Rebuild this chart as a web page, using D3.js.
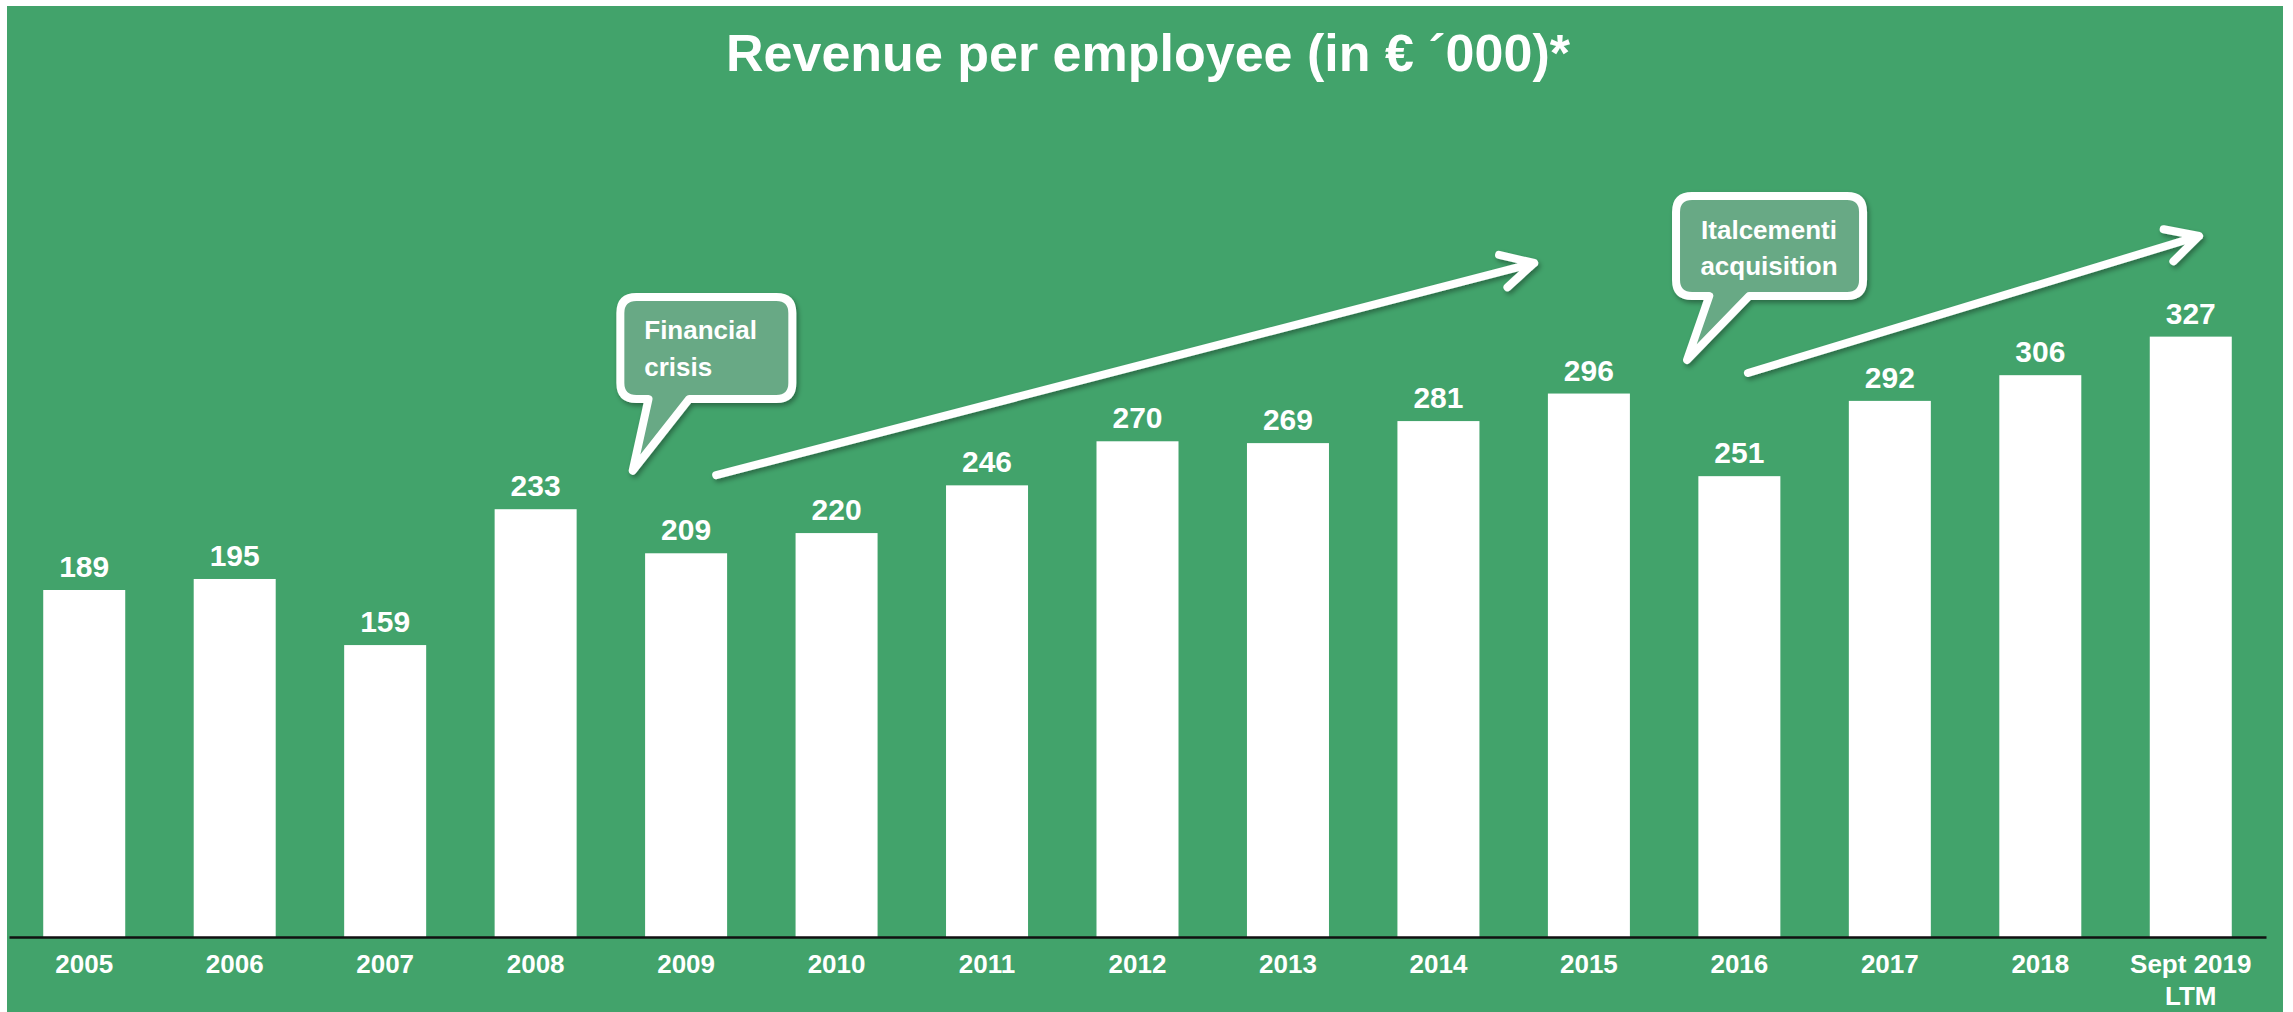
<!DOCTYPE html>
<html>
<head>
<meta charset="utf-8">
<script src="https://cdn.jsdelivr.net/npm/d3@7"></script>
<style>
  html, body { margin: 0; padding: 0; background: #fff; }
  svg { display: block; font-family: "Liberation Sans", Arial, sans-serif; }
</style>
</head>
<body>
<div id="chart"></div>
<script>
var categories = ['2005', '2006', '2007', '2008', '2009', '2010', '2011', '2012',
  '2013', '2014', '2015', '2016', '2017', '2018', 'Sept 2019 LTM'];
var values = [189, 195, 159, 233, 209, 220, 246, 270, 269, 281, 296, 251, 292, 306, 327];
var title = 'Revenue per employee (in € \u00B4000)*';

// callouts and arrows, placed in chart units: f = bar index, v = value
var calloutTexts = [['Financial', 'crisis'], ['Italcementi', 'acquisition']];
var calloutBoxes = [
  { f0: 3.563, f1: 4.706, vTop: 348.6, vBot: 293.0, tail: [3.75, 4.02], tip: [3.645, 254], textF: 3.722, textV: [325.7, 305.6], anchor: 'start' },
  { f0: 10.579, f1: 11.822, vTop: 403.6, vBot: 349.1, tail: [10.80, 11.065], tip: [10.652, 314.3], textF: 11.197, textV: [380.2, 360.6], anchor: 'middle' }
];
var trendArrows = [
  { from: [4.20, 251.6], to: [9.636, 367.1] },
  { from: [11.057, 307.2], to: [14.055, 381.8] }
];

var width = 2293
  , height = 1012
  , base = 937;

var svg = d3.select('#chart').append('svg')
  .attr('width', width)
  .attr('height', height);

var defs = svg.append('defs');
defs.append('filter')
  .attr('id', 'shadow')
  .attr('x', '-20%').attr('y', '-20%')
  .attr('width', '140%').attr('height', '140%')
  .append('feDropShadow')
  .attr('dx', 2).attr('dy', 3)
  .attr('stdDeviation', 2.5)
  .attr('flood-color', '#000')
  .attr('flood-opacity', 0.35);

svg.append('rect')
  .attr('x', 7).attr('y', 6)
  .attr('width', 2276).attr('height', height - 6)
  .attr('fill', '#42a36b');

var x = d3.scaleBand()
  .domain(categories)
  .range([9, 2266])
  .paddingInner(0.455)
  .paddingOuter(0.2275);

var y = d3.scaleLinear()
  .domain([0, 500])
  .range([base, base - 918]);

function xAt(f) {
  return x(categories[0]) + x.bandwidth() / 2 + f * x.step();
}

svg.append('text')
  .attr('x', 1148)
  .attr('y', 71)
  .attr('text-anchor', 'middle')
  .attr('fill', '#fff')
  .attr('font-size', 52)
  .attr('font-weight', 'bold')
  .text(title);

// bars
svg.append('g').selectAll('rect')
  .data(values)
  .join('rect')
  .attr('x', function(d, i) { return x(categories[i]); })
  .attr('y', function(d) { return y(d); })
  .attr('width', x.bandwidth())
  .attr('height', function(d) { return y(0) - y(d); })
  .attr('fill', '#fff');

svg.append('g').selectAll('text')
  .data(values)
  .join('text')
  .attr('x', function(d, i) { return x(categories[i]) + x.bandwidth() / 2; })
  .attr('y', function(d) { return y(d) - 13; })
  .attr('text-anchor', 'middle')
  .attr('fill', '#fff')
  .attr('font-size', 30)
  .attr('font-weight', 'bold')
  .text(function(d) { return d; });

// x axis
var axis = svg.append('g')
  .attr('transform', 'translate(0,' + base + ')')
  .call(d3.axisBottom(x).tickSize(0).tickSizeOuter(0));

axis.select('.domain')
  .attr('stroke', '#111')
  .attr('stroke-width', 2.5);

axis.selectAll('.tick text')
  .attr('fill', '#fff')
  .attr('font-size', 26)
  .attr('font-weight', 'bold')
  .attr('font-family', '"Liberation Sans", Arial, sans-serif')
  .attr('y', 36)
  .attr('dy', 0)
  .each(function(d) {
    var words = d.split(' ');
    if (words.length < 2) return;
    var t = d3.select(this).text(null);
    t.append('tspan').attr('x', 0).attr('y', 36).text(words.slice(0, -1).join(' '));
    t.append('tspan').attr('x', 0).attr('y', 68).text(words[words.length - 1]);
  });

// callouts
function calloutPath(b) {
  var L = xAt(b.f0), R = xAt(b.f1), T = y(b.vTop), B = y(b.vBot), r = 16
    , tl = xAt(b.tail[0]), tr = xAt(b.tail[1])
    , tx = xAt(b.tip[0]), ty = y(b.tip[1]);
  return 'M' + (L + r) + ',' + T + 'H' + (R - r) +
    'Q' + R + ',' + T + ' ' + R + ',' + (T + r) +
    'V' + (B - r) + 'Q' + R + ',' + B + ' ' + (R - r) + ',' + B +
    'H' + tr + 'L' + tx + ',' + ty + 'L' + tl + ',' + B +
    'H' + (L + r) + 'Q' + L + ',' + B + ' ' + L + ',' + (B - r) +
    'V' + (T + r) + 'Q' + L + ',' + T + ' ' + (L + r) + ',' + T + 'Z';
}

var callouts = svg.append('g').selectAll('g')
  .data(calloutBoxes)
  .join('g');

callouts.append('path')
  .attr('d', calloutPath)
  .attr('fill', '#68a985')
  .attr('stroke', '#fff')
  .attr('stroke-width', 8)
  .attr('stroke-linejoin', 'round')
  .attr('filter', 'url(#shadow)');

callouts.each(function(b, i) {
  d3.select(this).selectAll('text')
    .data(calloutTexts[i])
    .join('text')
    .attr('x', xAt(b.textF))
    .attr('y', function(d, k) { return y(b.textV[k]); })
    .attr('text-anchor', b.anchor)
    .attr('fill', '#fff')
    .attr('font-size', 26)
    .attr('font-weight', 'bold')
    .text(function(d) { return d; });
});

// trend arrows
var arrows = svg.append('g')
  .attr('fill', 'none')
  .attr('stroke', '#fff')
  .attr('stroke-width', 8)
  .attr('stroke-linecap', 'round')
  .attr('stroke-linejoin', 'round')
  .attr('filter', 'url(#shadow)')
  .selectAll('path')
  .data(trendArrows)
  .join('path')
  .attr('d', function(a) {
    var x0 = xAt(a.from[0]), y0 = y(a.from[1])
      , x1 = xAt(a.to[0]), y1 = y(a.to[1])
      , ang = Math.atan2(y0 - y1, x0 - x1)
      , len = 36, spread = Math.PI / 6.5
      , h1 = [x1 + len * Math.cos(ang - spread), y1 + len * Math.sin(ang - spread)]
      , h2 = [x1 + len * Math.cos(ang + spread), y1 + len * Math.sin(ang + spread)];
    return 'M' + x0 + ',' + y0 + 'L' + x1 + ',' + y1 +
      'M' + h1[0] + ',' + h1[1] + 'L' + x1 + ',' + y1 + 'L' + h2[0] + ',' + h2[1];
  });
</script>
</body>
</html>
